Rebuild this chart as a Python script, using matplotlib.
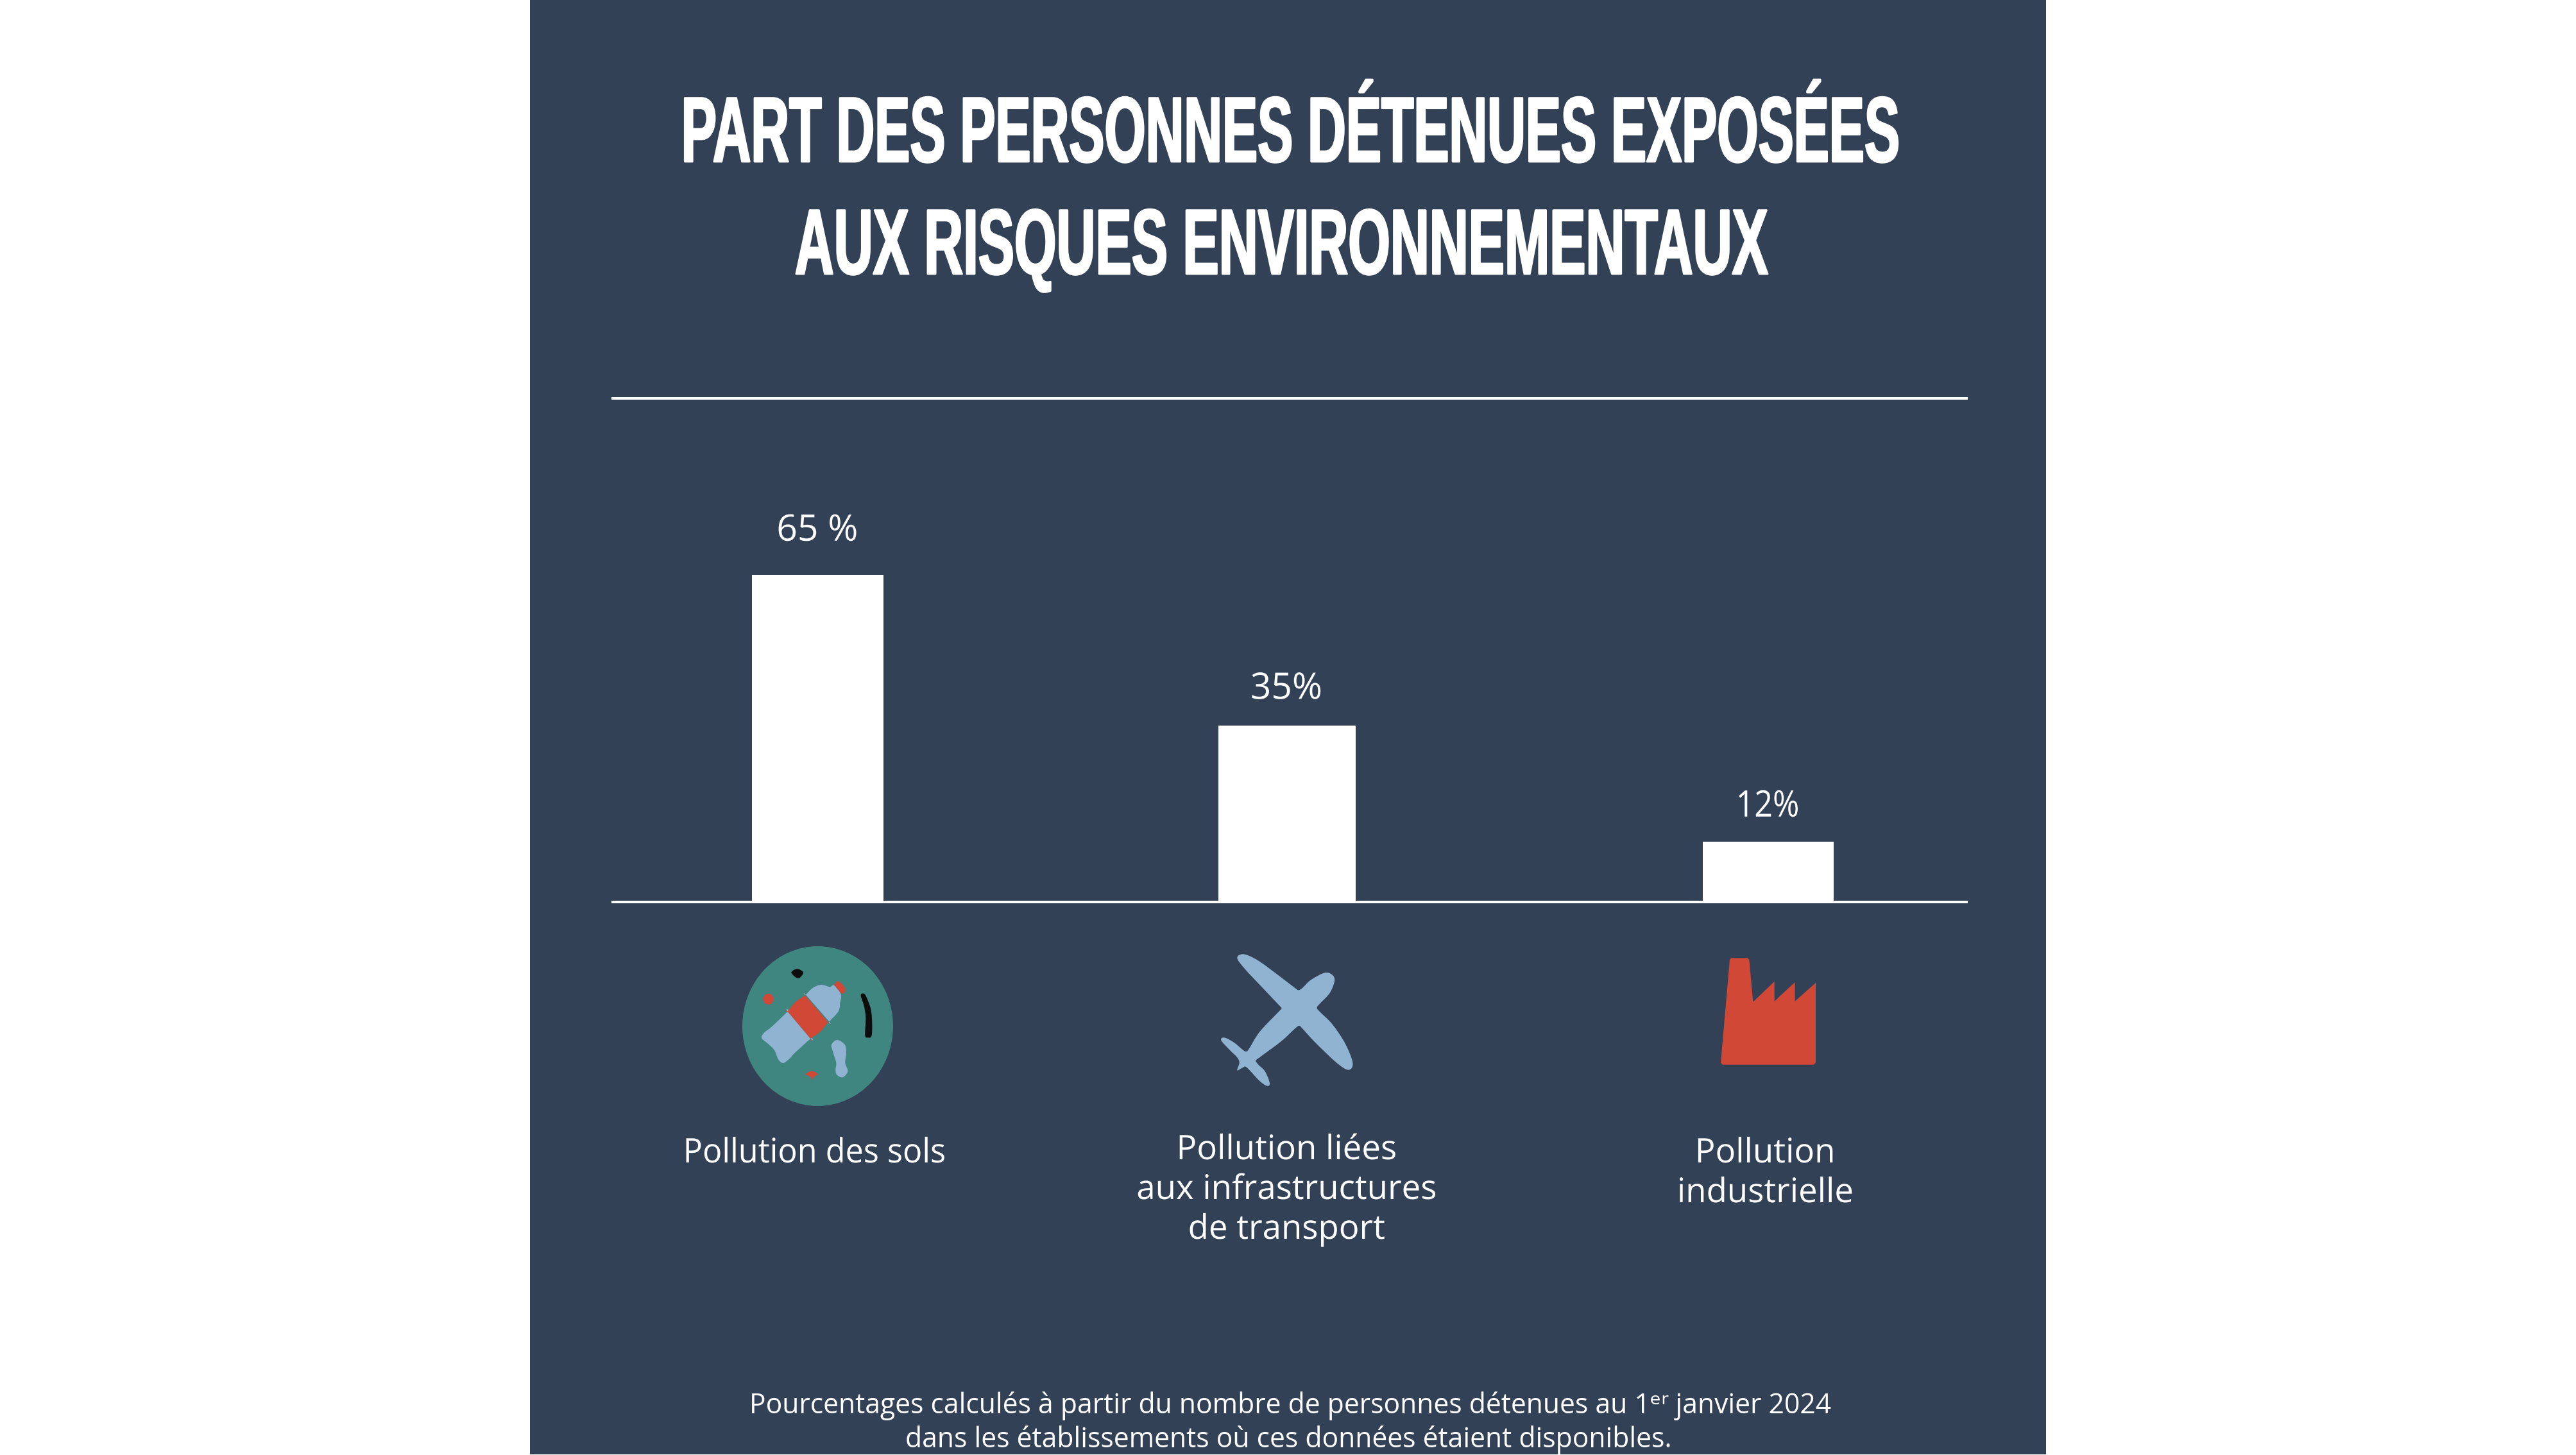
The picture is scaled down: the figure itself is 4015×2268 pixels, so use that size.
import matplotlib
matplotlib.use('Agg')
import matplotlib.pyplot as plt
import matplotlib.patheffects as pe
from matplotlib.patches import Ellipse, PathPatch, Polygon, Rectangle
from matplotlib.path import Path
from matplotlib.transforms import Affine2D

# data
categories = ['Pollution des sols', 'Pollution liées\naux infrastructures\nde transport', 'Pollution\nindustrielle']
values = [65, 35, 12]
value_labels = ['65 %', '35%', '12%']
title_lines = ['PART DES PERSONNES DÉTENUES EXPOSÉES', 'AUX RISQUES ENVIRONNEMENTAUX']
note_lines = ['Pourcentages calculés à partir du nombre de personnes détenues au 1ᵉʳ janvier 2024',
              'dans les établissements où ces données étaient disponibles.']

# layout, in pixels of the 4016x2268 picture
W, H = 4016, 2268
bar_x = [1274.5, 2006, 2756]
bar_w = [205, 214, 204]
value_gap = [53, 42, 39]
value_x = [1274, 2005, 2755]
value_sq = [1, 1, 0.88]
label_x = [1269, 2005, 2751]
label_y = [1812, 1807, 1812]
label_sq = [0.955, 1, 1]
title_sq = [0.572, 0.584]

BG = '#324155'
TEAL = '#3F8580'
BLUE = '#8FB3D1'
RED = '#D14836'
BLACK = '#0C0C0C'
BODY = ['Open Sans', 'DejaVu Sans']
TITLE = ['Liberation Sans Narrow', 'Liberation Sans']


class Squeeze(pe.AbstractPathEffect):
    # narrows each line of text around its own centre, optional outline to keep the weight
    def __init__(self, sx, stroke=0):
        super().__init__()
        self.sx = sx
        self.stroke = stroke

    def draw_path(self, renderer, gc, tpath, affine, rgbFace=None):
        x0, _, x1, _ = tpath.get_extents().extents
        mid = (x0 + x1) / 2
        sq = Affine2D().translate(-mid, 0).scale(self.sx, 1).translate(mid, 0)
        gc0 = renderer.new_gc()
        gc0.copy_properties(gc)
        if self.stroke:
            gc0.set_foreground(rgbFace)
            gc0.set_linewidth(self.stroke)
        renderer.draw_path(gc0, tpath, sq + affine, rgbFace)
        gc0.restore()


def blob(points, origin, scale=3.0):
    pts = [(origin[0] + x / scale, origin[1] + y / scale) for x, y in points]
    n = len(pts)
    verts = [pts[0]]
    codes = [Path.MOVETO]
    for i in range(n):
        p0, p1, p2, p3 = pts[i - 1], pts[i], pts[(i + 1) % n], pts[(i + 2) % n]
        c1 = (p1[0] + (p2[0] - p0[0]) / 6, p1[1] + (p2[1] - p0[1]) / 6)
        c2 = (p2[0] - (p3[0] - p1[0]) / 6, p2[1] - (p3[1] - p1[1]) / 6)
        verts += [c1, c2, p2]
        codes += [Path.CURVE4] * 3
    return Path(verts, codes)


dpi = 200
fig = plt.figure(figsize=(W / dpi, H / dpi), dpi=dpi, facecolor='white')

# background layer in pixel coordinates
bg = fig.add_axes([0, 0, 1, 1], zorder=0)
bg.set_xlim(0, W)
bg.set_ylim(H, 0)
bg.axis('off')
bg.add_patch(Rectangle((826, 0), 2363, 2267, fc=BG, ec='none'))

# bars: the frame runs from 0 to 100 %
ax = fig.add_axes([953 / W, (H - 1406) / H, (3067 - 953) / W, (1406 - 621) / H], zorder=1)
ax.patch.set_alpha(0)
ax.set_xlim(953, 3067)
ax.set_ylim(0, 100)
ax.bar(bar_x, values, width=bar_w, color='white')
ax.set_xticks([])
ax.set_yticks([])
for side in ['left', 'right']:
    ax.spines[side].set_visible(False)
for side in ['top', 'bottom']:
    ax.spines[side].set_color('white')
    ax.spines[side].set_linewidth(4 * 72 / dpi)
    ax.spines[side].set_capstyle('butt')

for x, v, lab, gap, sq in zip(value_x, values, value_labels, value_gap, value_sq):
    ax.annotate(lab, (x, v), xytext=(0, gap * 72 / dpi), textcoords='offset points',
                ha='center', va='baseline', color='white', fontsize=20.5, family=BODY,
                path_effects=[Squeeze(sq)])

# overlay for text and icons
top = fig.add_axes([0, 0, 1, 1], zorder=2)
top.set_xlim(0, W)
top.set_ylim(H, 0)
top.axis('off')

for line, y, cx, sq in zip(title_lines, [252, 427], [2011, 1997], title_sq):
    top.text(cx, y, line, ha='center', va='baseline', color='white', fontsize=52,
             family=TITLE, fontweight='bold', path_effects=[Squeeze(sq, stroke=1.0)])

for x, y, lab, sq in zip(label_x, label_y, categories, label_sq):
    for i, line in enumerate(lab.split('\n')):
        top.text(x, y + i * 62, line, ha='center', va='baseline', color='white',
                 fontsize=19, family=BODY, path_effects=[Squeeze(sq)])

for line, y, cx in zip(note_lines, [2203, 2256], [2011, 2008]):
    top.text(cx, y, line, ha='center', va='baseline', color='white', fontsize=15.35, family=BODY)

# icon 1: bottle on soil
o1 = (1100, 1440)
top.add_patch(Ellipse((1274.5, 1599.5), 235, 249, fc=TEAL, ec='none'))
shapes = [
    (BLUE, [(383, 410), (383, 410), (490, 537), (490, 537), (420, 600), (390, 632), (362, 651),
            (340, 635), (320, 590), (290, 560), (262, 535), (272, 510), (310, 480)]),
    (RED, [(383, 410), (383, 410), (420, 365), (465, 335), (465, 335), (572, 460), (572, 460),
           (535, 505), (490, 537), (490, 537)]),
    (BLUE, [(468, 332), (468, 332), (500, 300), (540, 285), (580, 295), (600, 288), (632, 330),
            (628, 370), (620, 410), (577, 457), (577, 457)]),
    (RED, [(600, 285), (600, 285), (618, 268), (640, 285), (654, 310), (640, 327), (630, 322), (630, 322)]),
    (BLACK, [(400, 228), (428, 211), (456, 228), (432, 255)]),
    (BLACK, [(725, 335), (738, 326), (750, 340), (772, 400), (778, 470), (775, 525), (760, 532),
             (745, 522), (748, 440), (740, 385)]),
    (BLUE, [(588, 565), (615, 543), (650, 565), (657, 600), (652, 650), (664, 690), (640, 718),
            (612, 705), (607, 680), (610, 650), (595, 600)]),
    (RED, [(468, 703), (495, 689), (524, 703), (505, 716), (498, 730), (490, 716)]),
]
for col, pts in shapes:
    top.add_patch(PathPatch(blob(pts, o1), fc=col, ec='none'))
top.add_patch(Ellipse((1100 + 293 / 3, 1440 + 352 / 3), 16, 17, fc=RED, ec='none'))

# icon 2: plane
plane = [(235, 160), (265, 142), (330, 170), (420, 235), (505, 300), (522, 310), (540, 300), (580, 262),
         (650, 228), (690, 255), (670, 320), (620, 375), (608, 392), (620, 410), (680, 470), (740, 560),
         (775, 650), (755, 683), (700, 650), (600, 555), (540, 490), (525, 477), (505, 490), (440, 550),
         (335, 628), (322, 640), (335, 660), (365, 690), (387, 745), (375, 758), (340, 735), (280, 672),
         (262, 672), (235, 685), (245, 650), (235, 625), (200, 590), (160, 545), (175, 532), (220, 555),
         (262, 590), (277, 597), (290, 585), (340, 505), (430, 410), (442, 395), (430, 380), (340, 285),
         (270, 210)]
top.add_patch(PathPatch(blob(plane, (1850, 1440)), fc=BLUE, ec='none'))

# icon 3: factory
factory = [(228, 108), (235, 100), (312, 100), (319, 108), (337, 305), (437, 210), (437, 302),
           (533, 213), (533, 302), (630, 216), (630, 590), (620, 599), (195, 599), (186, 590)]
top.add_patch(Polygon([(2620 + x / 3, 1460 + y / 3) for x, y in factory], fc=RED, ec='none'))

fig.savefig('out.png', dpi=dpi, facecolor='white')
